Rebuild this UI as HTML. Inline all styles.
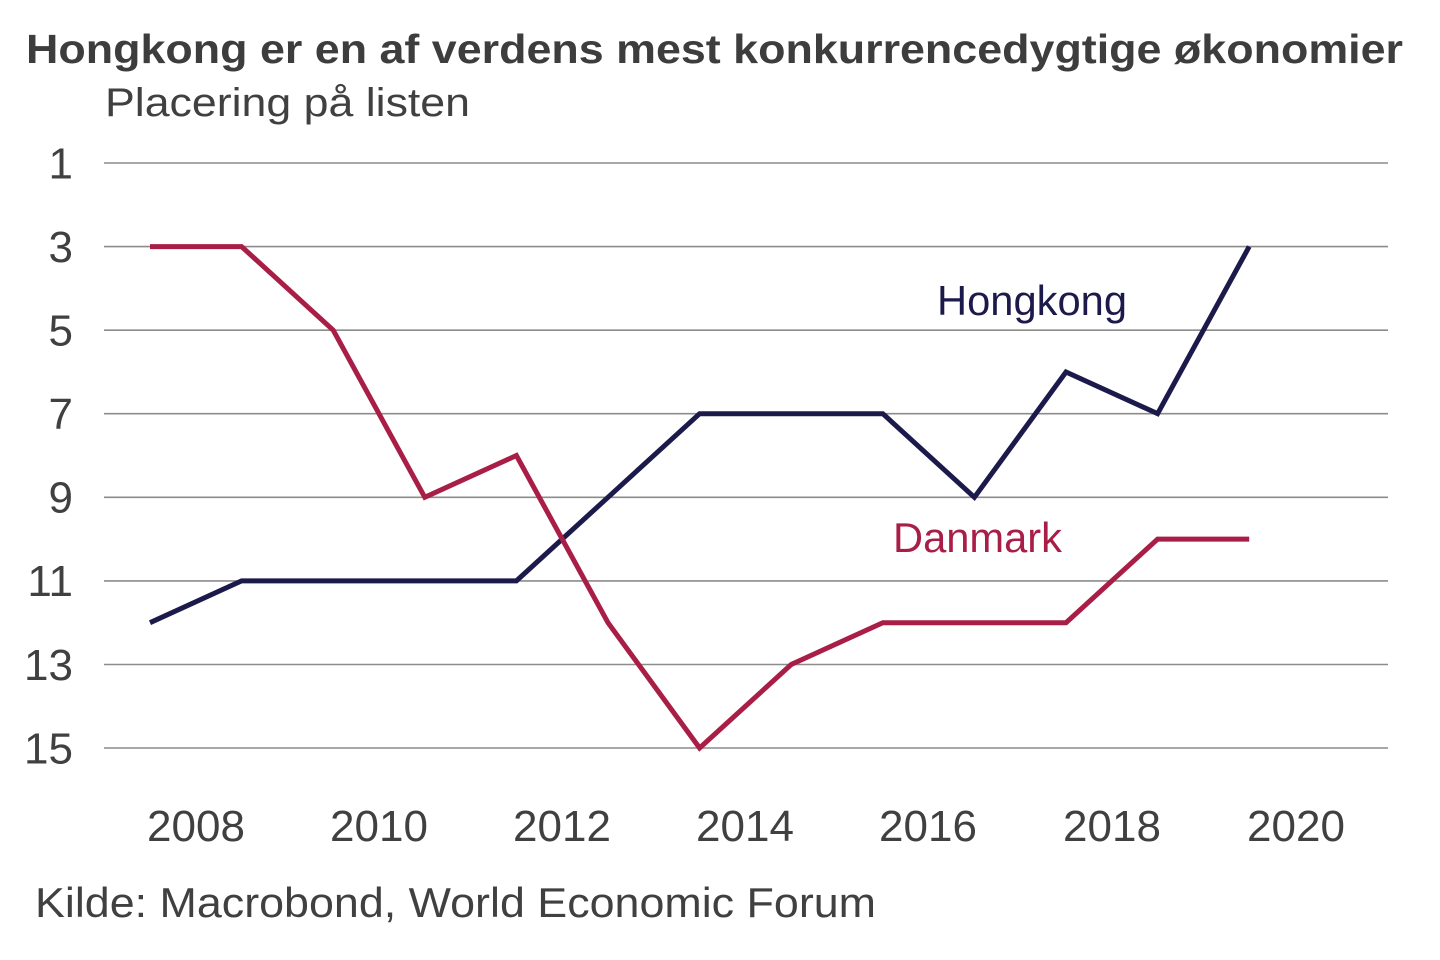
<!DOCTYPE html>
<html>
<head>
<meta charset="utf-8">
<style>
  html, body { margin: 0; padding: 0; background: #ffffff; }
  svg { display: block; }
  text { font-family: "Liberation Sans", Arial, Helvetica, sans-serif; }
</style>
</head>
<body>
<svg width="1440" height="960" viewBox="0 0 1440 960" xmlns="http://www.w3.org/2000/svg">
  <rect x="0" y="0" width="1440" height="960" fill="#ffffff"/>

  <!-- Title -->
  <text x="26" y="63" font-size="41" font-weight="bold" fill="#3d3d3d" textLength="1377" lengthAdjust="spacingAndGlyphs">Hongkong er en af verdens mest konkurrencedygtige økonomier</text>
  <text x="105" y="116" font-size="40" fill="#404040" textLength="365" lengthAdjust="spacingAndGlyphs">Placering på listen</text>

  <!-- Gridlines -->
  <g stroke="#8c8c8c" stroke-width="1.6">
    <line x1="104" y1="163" x2="1388" y2="163"/>
    <line x1="104" y1="246.6" x2="1388" y2="246.6"/>
    <line x1="104" y1="330.2" x2="1388" y2="330.2"/>
    <line x1="104" y1="413.7" x2="1388" y2="413.7"/>
    <line x1="104" y1="497.3" x2="1388" y2="497.3"/>
    <line x1="104" y1="580.9" x2="1388" y2="580.9"/>
    <line x1="104" y1="664.5" x2="1388" y2="664.5"/>
    <line x1="104" y1="748" x2="1388" y2="748"/>
  </g>

  <!-- Y labels -->
  <g font-size="44" fill="#404040" text-anchor="end">
    <text x="73" y="178.5">1</text>
    <text x="73" y="262">3</text>
    <text x="73" y="345.5">5</text>
    <text x="73" y="429">7</text>
    <text x="73" y="512.5">9</text>
    <text x="73" y="596">11</text>
    <text x="73" y="680">13</text>
    <text x="73" y="763.5">15</text>
  </g>

  <!-- X labels -->
  <g font-size="44" fill="#404040" text-anchor="middle">
    <text x="196" y="841">2008</text>
    <text x="379" y="841">2010</text>
    <text x="562" y="841">2012</text>
    <text x="745" y="841">2014</text>
    <text x="928" y="841">2016</text>
    <text x="1112" y="841">2018</text>
    <text x="1296" y="841">2020</text>
  </g>

  <!-- Hongkong -->
  <polyline fill="none" stroke="#1c1a4b" stroke-width="5" stroke-linejoin="miter" stroke-linecap="butt"
    points="150,622.7 241.6,580.9 333.2,580.9 424.8,580.9 516.4,580.9 608,497.3 699.6,413.7 791.2,413.7 882.8,413.7 974.4,497.3 1066,372 1157.6,413.7 1249.2,246.6"/>

  <!-- Danmark -->
  <polyline fill="none" stroke="#a91e46" stroke-width="5" stroke-linejoin="miter" stroke-linecap="butt"
    points="150,246.6 241.6,246.6 333.2,330.2 424.8,497.3 516.4,455.5 608,622.7 699.6,748 791.2,664.5 882.8,622.7 974.4,622.7 1066,622.7 1157.6,539.1 1249.2,539.1"/>

  <!-- Series labels -->
  <text x="937" y="315" font-size="42" fill="#1c1a4b" textLength="190" lengthAdjust="spacingAndGlyphs">Hongkong</text>
  <text x="893" y="552" font-size="42" fill="#a91e46" textLength="169" lengthAdjust="spacingAndGlyphs">Danmark</text>

  <!-- Source -->
  <text x="35" y="917" font-size="42" fill="#404040" textLength="841" lengthAdjust="spacingAndGlyphs">Kilde: Macrobond, World Economic Forum</text>
</svg>
</body>
</html>
